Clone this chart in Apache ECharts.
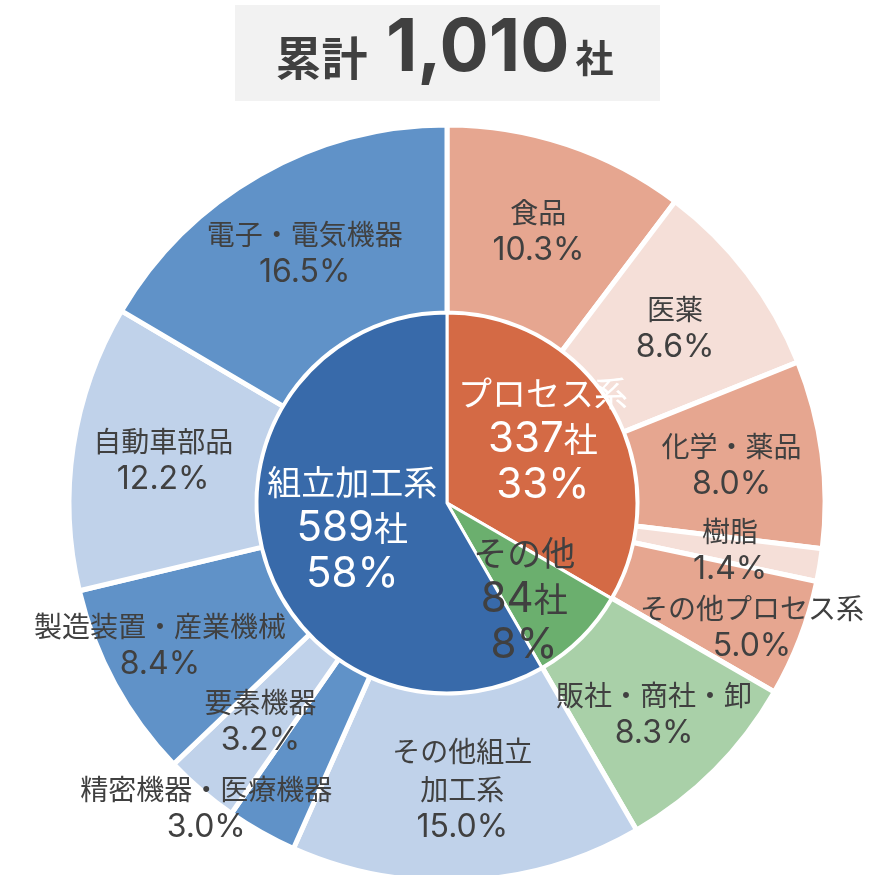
<!DOCTYPE html>
<html><head><meta charset="utf-8">
<script src="https://cdn.jsdelivr.net/npm/echarts@6/dist/echarts.min.js"></script>
<style>html,body{margin:0;padding:0;background:#fff}#c{width:889px;height:875px}</style>
</head><body><div id="c"></div>
<script>
const totalCount = '1,010';
const innerNames = ['プロセス系', 'その他', '組立加工系'];
const innerCounts = [337, 84, 589];
const innerPct = [33, 8, 58];
const outerNames = ['食品', '医薬', '化学・薬品', '樹脂', 'その他プロセス系', '販社・商社・卸',
  'その他組立\n加工系', '精密機器・医療機器', '要素機器', '製造装置・産業機械', '自動車部品', '電子・電気機器'];
const outerPct = [10.3, 8.6, 8.0, 1.4, 5.0, 8.3, 15.0, 3.0, 3.2, 8.4, 12.2, 16.5];

const innerColors = ['#D46A45', '#6BAF6E', '#386AAA'];
const innerLabelColors = ['#ffffff', '#404040', '#ffffff'];
const innerOffsets = [[11, -15], [8, 27], [0, 0]];
const outerColors = ['#E6A690', '#F5DFD8', '#E6A690', '#F5DFD8', '#E6A690', '#A9D0A8',
  '#C0D2EA', '#6092C8', '#C0D2EA', '#6092C8', '#C0D2EA', '#6092C8'];
const outerOffsets = {4: [37, 22], 5: [4, 9], 7: [-100, 55], 9: [-35, 5]};

const JP = '"Noto Sans CJK JP", sans-serif';
const LAT = 'Inter, "Noto Sans CJK JP", sans-serif';
const chart = echarts.init(document.getElementById('c'), null, {renderer: 'canvas'});

const innerData = innerNames.map((n, i) => ({
  name: n, value: innerCounts[i],
  itemStyle: {color: innerColors[i]},
  label: {color: innerLabelColors[i], offset: innerOffsets[i]}
}));
const outerData = outerNames.map((n, i) => {
  const d = {name: n, value: outerPct[i], itemStyle: {color: outerColors[i]}};
  if (outerOffsets[i]) d.label = {offset: outerOffsets[i]};
  return d;
});

chart.setOption({
  animation: false,
  graphic: [{
    type: 'rect', left: 235, top: 5, shape: {width: 425, height: 96},
    style: {fill: '#F2F2F2'}, z: 0
  }],
  title: {
    text: '{a|累計 }{b|' + totalCount + '}{c|社}',
    left: 'center', top: 8,
    textStyle: {
      rich: {
        a: {fontSize: 46, fontWeight: 'bold', color: '#404040', fontFamily: JP, verticalAlign: 'bottom', padding: [0, 8, 5, 0]},
        b: {fontSize: 73, fontWeight: 'bold', color: '#404040', fontFamily: LAT, verticalAlign: 'bottom'},
        c: {fontSize: 38, fontWeight: 'bold', color: '#404040', fontFamily: JP, verticalAlign: 'bottom', padding: [0, 0, 9, 6]}
      }
    }
  },
  series: [
    {
      type: 'pie', center: [447, 503], radius: [0, 190], startAngle: 90, clockwise: true,
      avoidLabelOverlap: false, silent: true,
      itemStyle: {borderColor: '#ffffff', borderWidth: 3},
      label: {
        position: 'inside', lineHeight: 46,
        rich: {
          j: {fontFamily: JP, fontSize: 34, lineHeight: 46},
          d: {fontFamily: LAT, fontSize: 42, lineHeight: 46}
        },
        formatter: p => `{j|${p.name}}\n{d|${innerCounts[p.dataIndex]}}{j|社}\n{d|${innerPct[p.dataIndex]}%}`
      },
      labelLine: {show: false},
      data: innerData, z: 3
    },
    {
      type: 'pie', center: [447, 503], radius: [190, 378], startAngle: 90, clockwise: true,
      avoidLabelOverlap: false, silent: true,
      itemStyle: {borderColor: '#ffffff', borderWidth: 5},
      label: {
        position: 'inside', color: '#404040', lineHeight: 38,
        rich: {
          j: {fontFamily: JP, fontSize: 28, lineHeight: 38, color: '#404040'},
          d: {fontFamily: LAT, fontSize: 32, lineHeight: 38, color: '#404040'}
        },
        formatter: p => p.name.split('\n').map(s => `{j|${s}}`).join('\n') + `\n{d|${p.value.toFixed(1)}%}`
      },
      labelLine: {show: false},
      data: outerData, z: 2
    }
  ]
});
</script></body></html>
